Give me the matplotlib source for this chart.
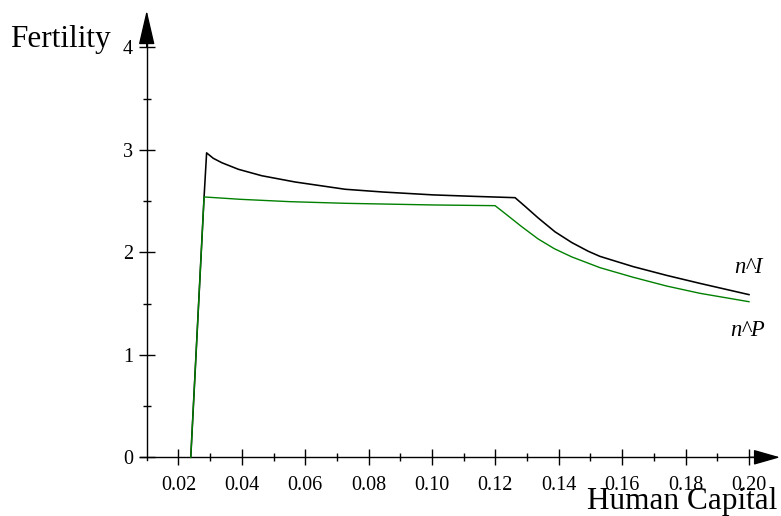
import matplotlib
matplotlib.use("Agg")
import matplotlib.pyplot as plt
from matplotlib.ticker import FixedLocator, NullFormatter

# ---- data ----
hc_I = [0.0239, 0.0281, 0.0289, 0.0310, 0.0337, 0.0389, 0.0463, 0.0568, 0.0726,
        0.0846, 0.1004, 0.1130, 0.1262, 0.1293, 0.1335, 0.1388, 0.1441, 0.1493,
        0.1530, 0.1635, 0.1740, 0.1845, 0.2000]
n_I = [0.0, 2.54, 2.97, 2.917, 2.874, 2.81, 2.747, 2.686, 2.615,
       2.588, 2.56, 2.546, 2.533, 2.45, 2.335, 2.20, 2.095, 2.01,
       1.96, 1.86, 1.775, 1.697, 1.587]

hc_P = [0.0239, 0.0281, 0.0395, 0.0552, 0.0726, 0.1000, 0.1199, 0.1230, 0.1283,
        0.1335, 0.1386, 0.1441, 0.1530, 0.1635, 0.1740, 0.1845, 0.2000]
n_P = [0.0, 2.54, 2.517, 2.494, 2.478, 2.462, 2.455, 2.38, 2.25,
       2.13, 2.035, 1.955, 1.85, 1.756, 1.671, 1.60, 1.518]

x_major = [0.02, 0.04, 0.06, 0.08, 0.10, 0.12, 0.14, 0.16, 0.18, 0.20]
x_major_labels = ["0.02", "0.04", "0.06", "0.08", "0.10", "0.12", "0.14", "0.16", "0.18", "0.20"]
x_minor = [0.03, 0.05, 0.07, 0.09, 0.11, 0.13, 0.15, 0.17, 0.19]
y_major = [0, 1, 2, 3, 4]
y_major_labels = ["0", "1", "2", "3", "4"]
y_minor = [0.5, 1.5, 2.5, 3.5]

plt.rcParams['font.family'] = ['Liberation Serif', 'DejaVu Serif']

W, H = 781, 516
fig = plt.figure(figsize=(W / 100, H / 100), dpi=100)

# axes placement so that x=0.01 -> px 146.7 and y=0 -> px 457.3
xlim = (0.0, 0.21)
ylim = (-0.2, 4.4)
px_per_x = 3170.0
px_per_y = 102.5
left_px = 146.7 - (0.01 - xlim[0]) * px_per_x
width_px = (xlim[1] - xlim[0]) * px_per_x
bottom_px = 457.3 + (0 - ylim[0]) * px_per_y
height_px = (ylim[1] - ylim[0]) * px_per_y
ax = fig.add_axes([left_px / W, (H - bottom_px) / H, width_px / W, height_px / H])
ax.set_xlim(*xlim)
ax.set_ylim(*ylim)
ax.patch.set_visible(False)

ax.plot(hc_I, n_I, color='black', lw=1.15, solid_joinstyle='round', zorder=3)
ax.plot(hc_P, n_P, color='#008000', lw=1.0, solid_joinstyle='round', zorder=4)

for s in ['top', 'right']:
    ax.spines[s].set_visible(False)
ax.spines['left'].set_position(('data', 0.01))
ax.spines['bottom'].set_position(('data', 0.0))
ax.spines['left'].set_bounds(-0.03, 4.1)
ax.spines['bottom'].set_bounds(0.0079, 0.203)
for s in ['left', 'bottom']:
    ax.spines[s].set_linewidth(1.0)

ax.xaxis.set_major_locator(FixedLocator(x_major))
ax.xaxis.set_minor_locator(FixedLocator(x_minor))
ax.set_xticklabels(x_major_labels)
ax.xaxis.set_minor_formatter(NullFormatter())
ax.yaxis.set_major_locator(FixedLocator(y_major))
ax.yaxis.set_minor_locator(FixedLocator(y_minor))
ax.set_yticklabels(y_major_labels)
ax.yaxis.set_minor_formatter(NullFormatter())

ax.tick_params(which='major', direction='inout', length=11.5, width=1.0, labelsize=14.5)
ax.tick_params(which='minor', direction='inout', length=5.8, width=1.0)
ax.tick_params(axis='x', which='major', pad=8)
ax.tick_params(axis='y', which='major', pad=4)

# arrow heads
ax.annotate('', xy=(0.01, 4.36), xytext=(0.01, 4.0),
            arrowprops=dict(arrowstyle='-|>,head_length=21.6,head_width=5.0',
                            mutation_scale=1, color='black', lw=1.0,
                            shrinkA=0, shrinkB=0))
ax.annotate('', xy=(0.2098, 0.0), xytext=(0.200, 0.0),
            arrowprops=dict(arrowstyle='-|>,head_length=16.5,head_width=4.7',
                            mutation_scale=1, color='black', lw=1.0,
                            shrinkA=0, shrinkB=0))

# labels
fig.text(10 / W, 1 - 47 / H, 'Fertility', fontsize=22.5, ha='left', va='baseline')
fig.text(777 / W, 1 - 509 / H, 'Human Capital', fontsize=22.5, ha='right', va='baseline')
fig.text(763 / W, 1 - 273 / H, 'n^I', fontsize=16.3, style='italic', ha='right', va='baseline')
fig.text(765 / W, 1 - 335.7 / H, 'n^P', fontsize=16.3, style='italic', ha='right', va='baseline')

fig.savefig('out.png', dpi=100)
